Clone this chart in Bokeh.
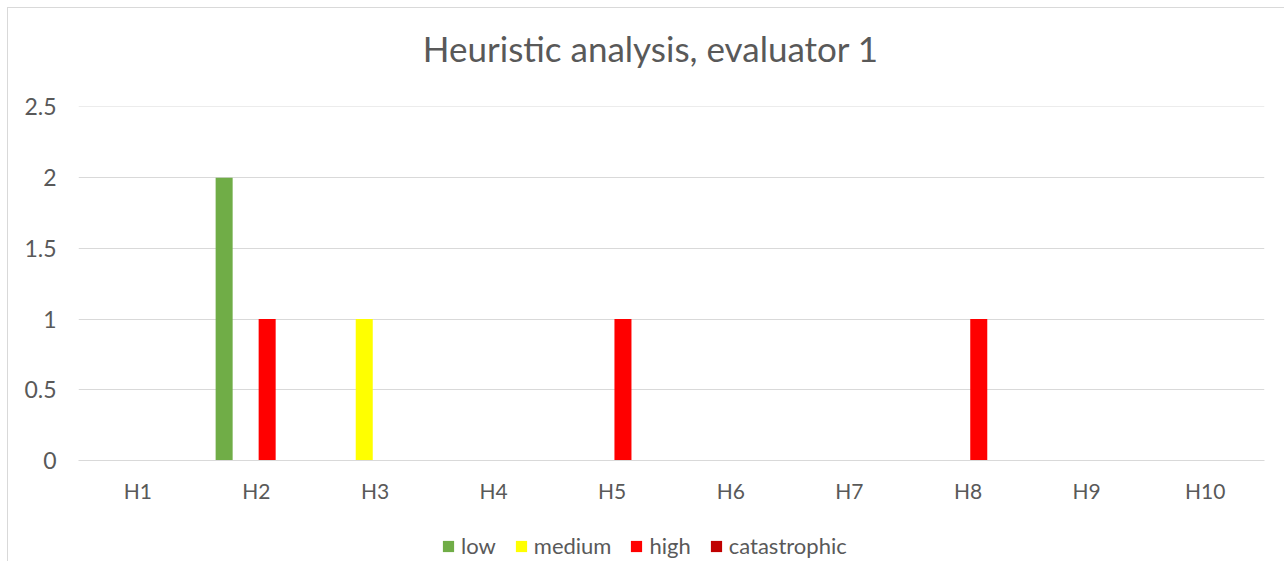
from bokeh.plotting import figure
from bokeh.models import (ColumnDataSource, FactorRange, Legend, LegendItem,
                          SingleIntervalTicker, Range1d, Div)
from bokeh.layouts import column
from bokeh.transform import dodge
from bokeh.embed import file_html
from bokeh.resources import INLINE

categories = ["H1", "H2", "H3", "H4", "H5", "H6", "H7", "H8", "H9", "H10"]
low = [0, 2, 0, 0, 0, 0, 0, 0, 0, 0]
medium = [0, 0, 1, 0, 0, 0, 0, 0, 0, 0]
high = [0, 1, 0, 0, 1, 0, 0, 1, 0, 0]
catastrophic = [0, 0, 0, 0, 0, 0, 0, 0, 0, 0]
series_names = ["low", "medium", "high", "catastrophic"]
series_colors = ["#70AD47", "#FFFF00", "#FF0000", "#C00000"]
title_text = "Heuristic analysis, evaluator 1"

source = ColumnDataSource(dict(cat=categories, low=low, medium=medium,
                               high=high, catastrophic=catastrophic))

FONT = "Lato"
TXT = "#595959"
GRID = "#D9D9D9"

# ---- title ----
title_div = Div(
    text=('<div style="font-family:Lato;font-size:35px;color:#595959;'
          'width:1276px;box-sizing:border-box;text-align:center;line-height:42px;'
          'padding-left:9px;white-space:nowrap;">'
          + title_text + '</div>'),
    width=1276, height=42, margin=(19, 0, 0, 0))

# ---- main chart ----
p = figure(x_range=FactorRange(*categories), y_range=Range1d(0, 2.503),
           width=1276, height=436, output_backend="svg", toolbar_location=None,
           min_border_left=70, min_border_right=20, min_border_top=37,
           min_border_bottom=44, margin=(0, 0, 0, 0))

offsets = [-0.272, -0.0907, 0.0907, 0.272]
for name, col, off in zip(series_names, series_colors, offsets):
    p.vbar(x=dodge("cat", off, range=p.x_range), top=name, width=0.1435,
           source=source, fill_color=col, line_color=None)

p.outline_line_color = None
p.xgrid.grid_line_color = None
p.ygrid.grid_line_color = GRID
p.ygrid.grid_line_width = 1
p.yaxis.ticker = SingleIntervalTicker(interval=0.5)
p.yaxis.axis_line_color = None
p.yaxis.major_tick_line_color = None
p.yaxis.minor_tick_line_color = None
p.yaxis.major_label_text_font = FONT
p.yaxis.major_label_text_font_size = "23px"
p.yaxis.major_label_text_color = TXT
p.yaxis.major_label_standoff = 16

p.xaxis.axis_line_color = GRID
p.xaxis.major_tick_line_color = None
p.xaxis.minor_tick_line_color = None
p.xaxis.major_label_text_font = FONT
p.xaxis.major_label_text_font_size = "21px"
p.xaxis.major_label_text_color = TXT
p.xaxis.major_label_standoff = 11

# ---- legend strip ----
p2 = figure(x_range=FactorRange(*categories), y_range=Range1d(10, 11),
            width=1276, height=30, output_backend="svg", toolbar_location=None,
            x_axis_location=None, y_axis_location=None,
            min_border_left=0, min_border_right=0, min_border_top=0,
            min_border_bottom=0, margin=(26, 0, 0, 0))
p2.outline_line_color = None
p2.grid.visible = False
leg_renderers = []
for name, col, off in zip(series_names, series_colors, offsets):
    r = p2.vbar(x=dodge("cat", off, range=p2.x_range), top=name, width=0.1435,
                source=source, fill_color=col, line_color=None)
    leg_renderers.append(r)

legend = Legend(items=[LegendItem(label=n, renderers=[r]) for n, r in zip(series_names, leg_renderers)],
                orientation="horizontal", location=(363, 2))
legend.label_text_font = FONT
legend.label_text_font_size = "22px"
legend.label_text_color = TXT
legend.glyph_width = 14
legend.glyph_height = 14
legend.label_standoff = 6
legend.spacing = 18
legend.border_line_color = None
legend.background_fill_alpha = 0
legend.margin = 0
legend.padding = 0
p2.add_layout(legend, "center")

layout = column(title_div, p, p2, spacing=0)
layout.margin = (7, 0, 0, 7)
layout.styles = {"border-left": "1px solid #D9D9D9", "border-top": "1px solid #D9D9D9"}

open("out.html", "w").write(file_html(layout, INLINE))
